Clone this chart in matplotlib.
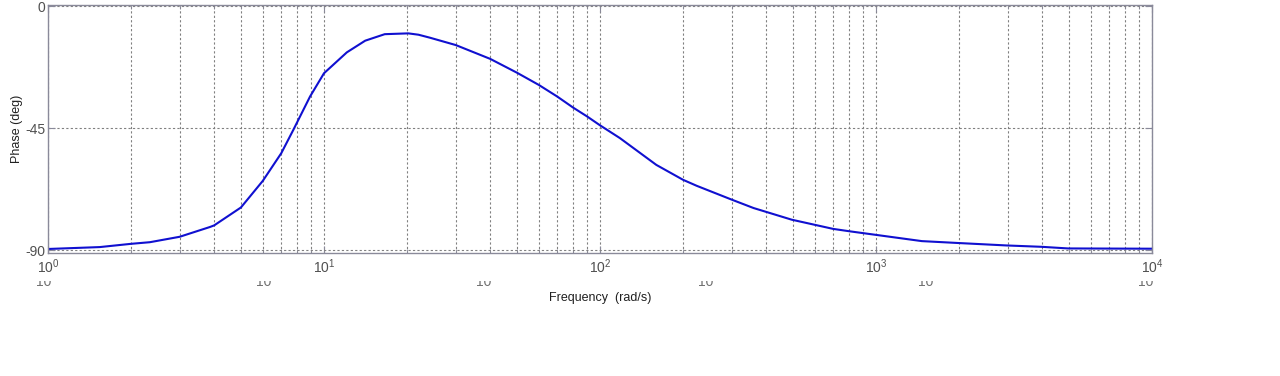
import matplotlib.pyplot as plt
import numpy as np
from matplotlib.ticker import FixedLocator, LogLocator, NullFormatter
from matplotlib.transforms import Bbox, TransformedBbox

plt.rcParams['font.family'] = ['Liberation Sans', 'DejaVu Sans']
plt.rcParams['mathtext.fontset'] = 'custom'
plt.rcParams['mathtext.rm'] = 'Liberation Sans'
plt.rcParams['mathtext.it'] = 'Liberation Sans'
plt.rcParams['axes.unicode_minus'] = False

# Data
freq = [1.0, 1.54, 2.0, 2.34, 3.0, 3.86, 4.0, 5.0, 6.0, 7.0, 7.75, 8.9, 10.0,
        12.1, 14.1, 16.6, 20.2, 22.0, 24.2, 30.0, 40.0, 50.0, 60.0, 70.0,
        80.0, 90.0, 100.0, 118.0, 160.0, 200.0, 224.0, 300.0, 360.0, 495.0,
        700.0, 805.0, 1000.0, 1466.0, 1986.0, 2972.0, 3981.0, 4966.0, 10000.0]
phase = [-89.5, -88.8, -87.6, -87.0, -85.0, -81.4, -80.8, -74.2, -64.4, -54.2,
         -45.5, -33.3, -24.7, -17.0, -12.7, -10.3, -10.0, -10.5, -11.6, -14.3,
         -19.4, -24.5, -29.0, -33.3, -37.4, -40.7, -43.9, -48.6, -58.5, -64.0,
         -66.2, -71.3, -74.4, -78.7, -82.1, -83.0, -84.3, -86.6, -87.3, -88.2,
         -88.7, -89.3, -89.4]
yticks = [-90, -45, 0]
# stray half-cut "10" labels under the axis (export artefact)
ghost_x = [0.034, 0.206, 0.378, 0.551, 0.723, 0.895]
ghost_labels = ['10'] * 6

gray = '#808080'
fig = plt.figure(figsize=(12.8, 3.76), dpi=100)
ax = fig.add_axes([0.0375, 0.327, 0.8625, 0.66])

ax.semilogx(freq, phase, color='#1010d0', lw=1.5)

ax.set_xlim(1, 1e4)
ax.set_ylim(-91, 0.5)
ax.yaxis.set_major_locator(FixedLocator(yticks))
ax.xaxis.set_major_locator(LogLocator(base=10))
ax.xaxis.set_minor_locator(LogLocator(base=10, subs=np.arange(2, 10)))
ax.xaxis.set_minor_formatter(NullFormatter())

ax.grid(True, which='both', axis='x', color=gray, linestyle=(0, (2, 2)), lw=0.8)
ax.grid(True, which='major', axis='y', color=gray, linestyle=(0, (2, 2)), lw=0.8)

for s in ax.spines.values():
    s.set_color('#8a8a9a')
    s.set_linewidth(1.0)
ax.tick_params(which='both', direction='in', top=True, right=True,
               colors='#8a8a9a', labelcolor='#505050', labelsize=10)
ax.tick_params(which='major', length=5)
ax.tick_params(which='minor', length=3)
ax.tick_params(axis='x', pad=3)
ax.tick_params(axis='y', pad=2)

ax.set_xlabel('Frequency  (rad/s)', fontsize=9, color='#202020', labelpad=12)
ax.set_ylabel('Phase (deg)', fontsize=9, color='#202020', labelpad=1.5)

# half-clipped ghost labels
clip = TransformedBbox(Bbox([[0, 0], [1, 1 - 281 / 376]]), fig.transFigure)
for gx, gl in zip(ghost_x, ghost_labels):
    t = fig.text(gx, 1 - 282.5 / 376, gl, fontsize=10, color='#707070',
                 ha='center', va='center')
    t.set_clip_box(clip)
    t.set_clip_on(True)

fig.savefig('out.png', dpi=100, facecolor='white')
